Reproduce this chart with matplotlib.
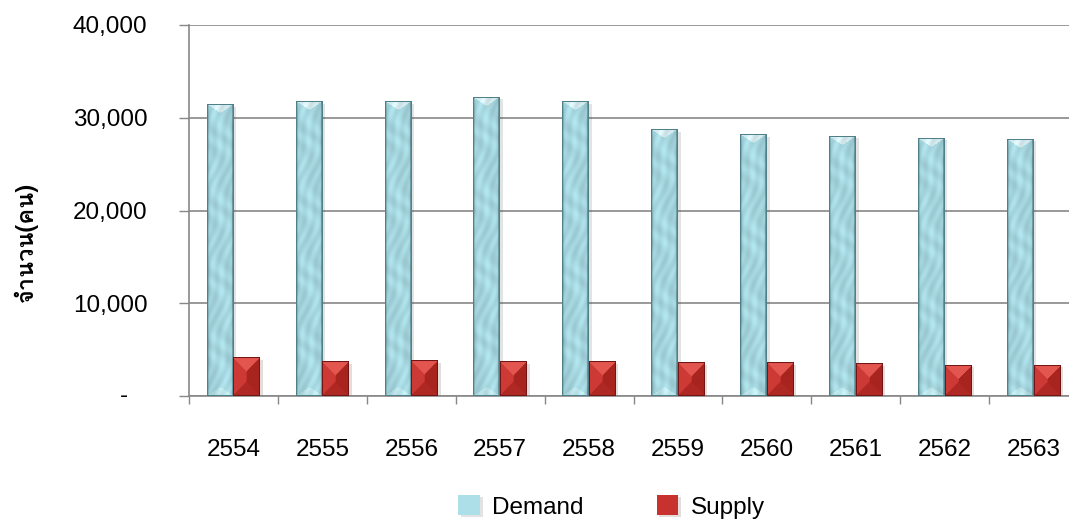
import matplotlib
matplotlib.use("Agg")
import matplotlib.pyplot as plt
import matplotlib.patheffects as pe
from matplotlib import font_manager
from matplotlib.ft2font import FT2Font
from matplotlib.ticker import FuncFormatter
import numpy as np

# data (people)
years = ['2554', '2555', '2556', '2557', '2558', '2559', '2560', '2561', '2562', '2563']
demand = [31400, 31700, 31700, 32200, 31700, 28700, 28200, 28000, 27800, 27700]
supply = [4100, 3700, 3800, 3700, 3700, 3600, 3600, 3500, 3300, 3300]

ylabel = 'จำนวน(คน)'


def find_thai_font():
    # pick any installed font that has Thai glyphs
    for f in font_manager.fontManager.ttflist:
        try:
            if ord('จ') in FT2Font(f.fname).get_charmap():
                return f.name
        except Exception:
            pass
    return None


def rgb(h):
    h = h.lstrip('#')
    return np.array([int(h[i:i + 2], 16) / 255 for i in (0, 2, 4)])


def bevel_image(w, h, bt, bs, face, top, left, right, bottom, edge, texture=False):
    # bt: depth of the top/bottom triangles, bs: width of the side facets (pixels)
    xs = np.arange(w) + 0.5
    ys = np.arange(h) + 0.5
    X, Y = np.meshgrid(xs, ys)
    img = np.empty((h, w, 3))
    img[:] = rgb(face)
    across = np.minimum(X, w - X) / (w / 2)
    img[X < bs] = rgb(left)
    img[(w - X) < bs] = rgb(right)
    img[(Y < bt) & (Y / bt < across)] = rgb(top)
    img[((h - Y) < bt) & ((h - Y) / bt < across)] = rgb(bottom)
    if texture:
        # soft water-like shading
        t = 0.5 + 0.5 * np.sin(X * 0.45 + 2.2 * np.sin(Y * 0.09)) * np.cos(Y * 0.17 + X * 0.2)
        img = img * (0.9 + 0.14 * t[..., None])
        side = np.abs(X / w - 0.5) * 2
        img = img * (1 - 0.15 * side[..., None] ** 4)
    raw = np.stack([Y, X, w - X, h - Y]).min(0)
    img[raw < 1.0] = rgb(edge)
    return np.clip(img, 0, 1)


plt.rcParams['font.family'] = ['Liberation Sans', 'DejaVu Sans']

fig = plt.figure(figsize=(10.69, 5.21), dpi=100)
ax = fig.add_axes([189 / 1069, 125 / 521, 889 / 1069, 371 / 521])

x = np.arange(len(years))
bw = 0.3
demand_color = '#acdfe8'
supply_color = '#c8322e'
shadow = [pe.SimplePatchShadow(offset=(2, -1.5), alpha=0.14), pe.Normal()]

b1 = ax.bar(x - bw / 2, demand, bw, color=demand_color, label='Demand', zorder=2, path_effects=shadow)
b2 = ax.bar(x + bw / 2, supply, bw, color=supply_color, label='Supply', zorder=2, path_effects=shadow)

ax.set_xlim(-0.5, len(years) - 0.5)
ax.set_ylim(0, 40000)

# overlay bevelled faces on each bar
styles = (
    (b1, dict(bt=9, bs=2, face='#acdfe8', top='#def5f9', left='#92c9d3',
              right='#78adb7', bottom='#c2ecf2', edge='#4f8089', texture=True)),
    (b2, dict(bt=14, bs=13, face='#c6322e', top='#e3564f', left='#cd3a35',
              right='#a8241f', bottom='#b02823', edge='#741515')),
)
for bars, style in styles:
    for p in bars:
        ext = p.get_window_extent()
        w = max(int(round(ext.width)), 2)
        h = max(int(round(ext.height)), 2)
        img = bevel_image(w, h, **style)
        bb = p.get_bbox()
        ax.imshow(img, extent=(bb.x0, bb.x1, bb.y0, bb.y1), origin='upper',
                  aspect='auto', interpolation='bilinear', zorder=3, clip_path=p)

ax.set_xlim(-0.5, len(years) - 0.5)
ax.set_ylim(0, 40000)

fs = 17.5
grey = '#878787'
ax.set_yticks(np.arange(0, 40001, 10000))
ax.yaxis.set_major_formatter(FuncFormatter(lambda v, pos: '' if v == 0 else f'{int(v):,}'))
ax.annotate('-', xy=(0, 0), xycoords=('axes fraction', 'data'), xytext=(-61, 0),
            textcoords='offset pixels', ha='right', va='center', fontsize=fs)
ax.tick_params(axis='y', length=7, width=1, color=grey, pad=23, labelsize=fs)

ax.set_xticks(x)
ax.set_xticklabels(years)
ax.set_xticks(np.arange(-0.5, len(years), 1), minor=True)
ax.tick_params(axis='x', which='major', length=0, pad=31, labelsize=fs)
ax.tick_params(axis='x', which='minor', length=6, width=1, color=grey)

ax.yaxis.grid(True, color=grey, lw=1.2)
ax.set_axisbelow(True)
for s in ('top', 'right'):
    ax.spines[s].set_visible(False)
for s in ('left', 'bottom'):
    ax.spines[s].set_color(grey)
    ax.spines[s].set_linewidth(1.2)

thai = find_thai_font()
fam = [thai, 'DejaVu Sans'] if thai else ['DejaVu Sans']
fig.text(26 / 1069, 0.536, ylabel, rotation=90, ha='center', va='center',
         fontsize=17, fontweight='bold', family=fam)

fig.legend(handles=[b1, b2], labels=['Demand', 'Supply'], loc='center',
           bbox_to_anchor=(0.572, 0.027), ncol=2, frameon=False, fontsize=fs,
           handlelength=0.9, handleheight=0.9, handletextpad=0.5, columnspacing=3.0)

fig.savefig('out.png', dpi=100)
